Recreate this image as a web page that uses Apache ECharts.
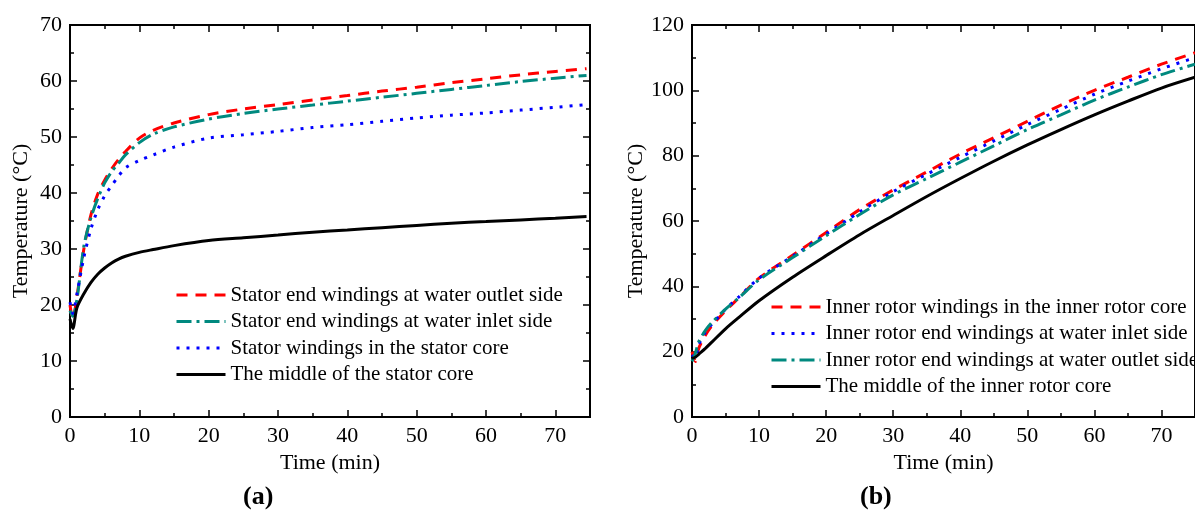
<!DOCTYPE html>
<html>
<head>
<meta charset="utf-8">
<script src="https://cdn.jsdelivr.net/npm/echarts@6/dist/echarts.min.js"></script>
<style>
  html, body { margin: 0; padding: 0; background: #fff; }
  #chart { width: 1195px; height: 517px; }
</style>
</head>
<body>
<div id="chart"></div>
<script>
// panel (a) - stator
var timeA = [0, 0.4, 1, 2, 3, 4, 5, 6, 7, 8, 10, 12, 15, 20, 25, 30, 35, 40, 45, 50, 55, 60, 65, 70, 74.5];
var statorOutlet = [20, 17.5, 21.5, 30, 36, 39.8, 42.3, 44.3, 46, 47.4, 49.8, 51.2, 52.5, 54, 55, 55.8, 56.6, 57.4, 58.2, 58.9, 59.7, 60.4, 61.1, 61.7, 62.2];
var statorInlet = [19, 18, 21, 30.5, 35.5, 39, 41.8, 43.8, 45.3, 46.8, 49, 50.5, 51.8, 53.2, 54.2, 55, 55.7, 56.4, 57.1, 57.8, 58.5, 59.2, 59.9, 60.5, 61];
var statorCore = [20.5, 18.5, 22, 28.5, 33.5, 37, 39.5, 41.3, 43, 44.5, 45.8, 46.8, 48.2, 49.8, 50.4, 51, 51.7, 52.2, 52.8, 53.4, 53.9, 54.3, 54.8, 55.3, 55.8];
var statorMiddle = [17.5, 15.8, 19.5, 22, 24, 25.5, 26.6, 27.5, 28.2, 28.7, 29.4, 29.9, 30.6, 31.5, 32, 32.5, 33, 33.4, 33.8, 34.2, 34.6, 34.9, 35.2, 35.5, 35.8];
var namesA = ['Stator end windings at water outlet side', 'Stator end windings at water inlet side',
              'Stator windings in the stator core', 'The middle of the stator core'];

// panel (b) - inner rotor
var timeB = [0, 0.5, 1, 2, 3, 5, 7, 10, 15, 20, 25, 30, 35, 40, 45, 50, 55, 60, 65, 70, 75];
var rotorCore = [20, 17, 21, 25, 28, 32.5, 36.5, 42.5, 49.5, 56.5, 63.5, 69.5, 75, 80.5, 85.5, 90.5, 95.5, 100, 104, 108, 111.5];
var rotorInlet = [19, 18, 22, 26, 28.5, 33, 36.8, 42.5, 49.2, 56, 62.8, 69, 74.3, 79.5, 84.5, 89.5, 94.2, 98.8, 102.8, 106.6, 110];
var rotorOutlet = [17, 19.5, 23, 26.5, 29, 33, 36.5, 42, 48.8, 55.5, 62, 68, 73, 78, 83, 88, 92.5, 97, 101, 104.8, 108];
var rotorMiddle = [18, 18.3, 19.2, 21, 23, 27, 30.5, 35.6, 42.8, 49.4, 55.8, 61.7, 67.5, 73, 78.3, 83.3, 88, 92.5, 96.7, 100.7, 104];
var namesB = ['Inner rotor windings in the inner rotor core', 'Inner rotor end windings at water inlet side',
              'Inner rotor end windings at water outlet side', 'The middle of the inner rotor core'];

var FONT = 'Liberation Serif';

function zip(t, v) {
    var out = [];
    for (var i = 0; i < t.length; i++) out.push([t[i], v[i]]);
    return out;
}

// one axis = labels + long ticks, or just short ticks
function makeAxis(grid, pos, min, max, step, tickLen, labels, name, nameGap) {
    var ax = {
        type: 'value', gridIndex: grid, position: pos,
        min: min, max: max, interval: step,
        axisLine: { show: false, onZero: false },
        axisTick: { show: true, inside: true, length: tickLen, lineStyle: { color: '#000', width: 1.5 } },
        axisLabel: { show: labels, color: '#000', fontFamily: FONT, fontSize: 22, margin: 8, showMaxLabel: false },
        splitLine: { show: false }
    };
    if (labels) ax.axisLabel.showMaxLabel = (pos == 'left');
    if (name) {
        ax.name = name;
        ax.nameLocation = 'middle';
        ax.nameGap = nameGap;
        ax.nameTextStyle = { color: '#000', fontFamily: FONT, fontSize: 22 };
    }
    return ax;
}

var xAxes = [], yAxes = [];
// grid 0
xAxes.push(makeAxis(0, 'bottom', 0, 75, 10, 7, true, 'Time (min)', 33));
xAxes.push(makeAxis(0, 'bottom', 0, 75, 5, 4, false));
xAxes.push(makeAxis(0, 'top', 0, 75, 10, 7, false));
xAxes.push(makeAxis(0, 'top', 0, 75, 5, 4, false));
yAxes.push(makeAxis(0, 'left', 0, 70, 10, 7, true, 'Temperature (°C)', 38));
yAxes.push(makeAxis(0, 'left', 0, 70, 5, 4, false));
yAxes.push(makeAxis(0, 'right', 0, 70, 10, 7, false));
yAxes.push(makeAxis(0, 'right', 0, 70, 5, 4, false));
// grid 1
xAxes.push(makeAxis(1, 'bottom', 0, 75, 10, 7, true, 'Time (min)', 33));
xAxes.push(makeAxis(1, 'bottom', 0, 75, 5, 4, false));
xAxes.push(makeAxis(1, 'top', 0, 75, 10, 7, false));
xAxes.push(makeAxis(1, 'top', 0, 75, 5, 4, false));
yAxes.push(makeAxis(1, 'left', 0, 120, 20, 7, true, 'Temperature (°C)', 44));
yAxes.push(makeAxis(1, 'left', 0, 120, 10, 4, false));

var styles = {
    red:   { color: '#ff0000', width: 3, type: [11, 8] },
    green: { color: '#00897f', width: 3, type: [15, 5, 3, 5] },
    blue:  { color: '#0000ff', width: 3, type: [3, 7] },
    black: { color: '#000000', width: 3, type: 'solid' }
};

function line(name, t, v, grid, st) {
    return {
        name: name, type: 'line',
        xAxisIndex: grid * 4, yAxisIndex: grid * 4,
        data: zip(t, v),
        symbol: 'none', smooth: 0.3,
        lineStyle: st, itemStyle: { color: st.color },
        z: 3
    };
}

var series = [
    line(namesA[0], timeA, statorOutlet, 0, styles.red),
    line(namesA[1], timeA, statorInlet, 0, styles.green),
    line(namesA[2], timeA, statorCore, 0, styles.blue),
    line(namesA[3], timeA, statorMiddle, 0, styles.black),
    line(namesB[0], timeB, rotorCore, 1, styles.red),
    line(namesB[1], timeB, rotorInlet, 1, styles.blue),
    line(namesB[2], timeB, rotorOutlet, 1, styles.green),
    line(namesB[3], timeB, rotorMiddle, 1, styles.black)
];

function legendAt(left, top, names) {
    return {
        data: names, left: left, top: top, orient: 'vertical',
        itemWidth: 49, itemHeight: 14, itemGap: 4.5,
        selectedMode: false,
        itemStyle: { opacity: 0 },
        lineStyle: { width: 3 },
        textStyle: { color: '#000', fontFamily: FONT, fontSize: 21, lineHeight: 22 }
    };
}

var chart = echarts.init(document.getElementById('chart'));
chart.setOption({
    animation: false,
    backgroundColor: '#fff',
    grid: [
        { left: 70, top: 25, width: 520, height: 392, show: true, borderColor: '#000', borderWidth: 2, backgroundColor: 'transparent' },
        { left: 692, top: 25, width: 513, height: 392, show: true, borderColor: '#000', borderWidth: 2, backgroundColor: 'transparent' }
    ],
    xAxis: xAxes,
    yAxis: yAxes,
    legend: [legendAt(170, 279, namesA), legendAt(765, 291, namesB)],
    graphic: [
        { type: 'text', left: 243, top: 484, style: { text: '(a)', font: 'bold 26px "Liberation Serif"', fill: '#000' } },
        { type: 'text', left: 860, top: 484, style: { text: '(b)', font: 'bold 26px "Liberation Serif"', fill: '#000' } }
    ],
    series: series
});
</script>
</body>
</html>
